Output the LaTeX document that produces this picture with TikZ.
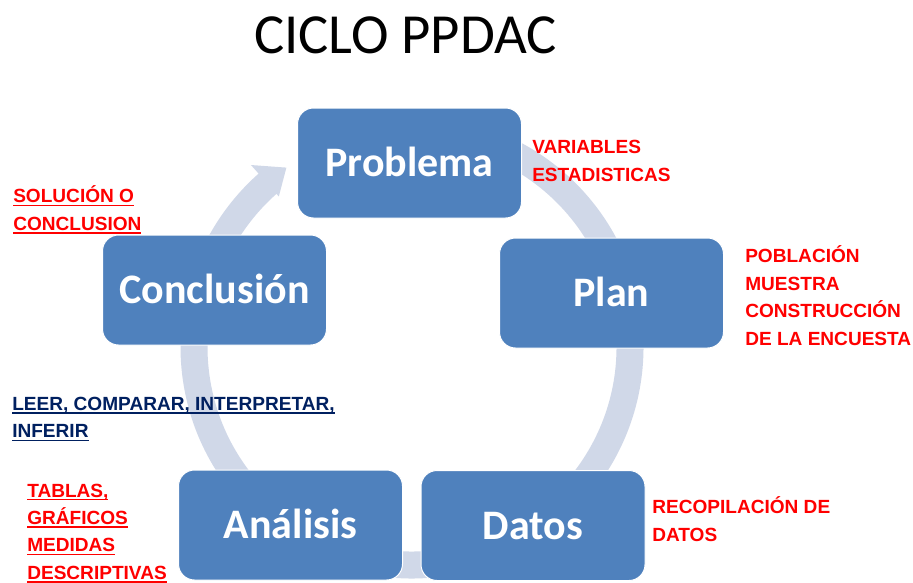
\documentclass[tikz,border=0pt]{standalone}
\usepackage{fontspec}
\setmainfont{Carlito}
\newfontfamily\labfont{Liberation Sans}
\definecolor{boxblue}{RGB}{79,129,189}
\definecolor{ringc}{RGB}{208,216,232}
\definecolor{navy}{RGB}{0,32,96}
\definecolor{labred}{RGB}{255,0,0}
\newsavebox\ulbox
\newcommand\ulx[1]{\sbox\ulbox{#1}\rlap{\rule[-2.6pt]{\wd\ulbox}{1.2pt}}\usebox\ulbox}
\begin{document}
\begin{tikzpicture}[x=0.75pt,y=0.75pt,
  stage/.style={rectangle, rounded corners=12pt, fill=boxblue, draw=white, line width=0.75pt,
    minimum width=168pt, minimum height=82.5pt, inner sep=0pt, text=white,
    font=\fontsize{31.5pt}{36pt}\selectfont\bfseries, text height=20.3pt, text depth=0pt},
  lbl/.style={anchor=north west, inner sep=0pt, align=left,
    font=\labfont\fontsize{14.3pt}{20.6pt}\selectfont\bfseries},
  ringpart/.style={ringc}]
\useasboundingbox (0,0) rectangle (913,-582);
\fill[white] (0,0) rectangle (913,-582);
% title
\node[font=\fontsize{42.5pt}{50pt}\selectfont, anchor=base, inner sep=0pt] (title) at (405.5,-53) {CICLO PPDAC};
% cycle ring
\coordinate (C) at (412,-347);
\draw[ringpart, line width=20.25pt] ([shift={(95:218)}]C) arc[start angle=95, end angle=-229, radius=163.5pt];
\fill[ringpart] ([shift={(131.5:243)}]C) -- ([shift={(125:219)}]C) -- ([shift={(131.5:201)}]C) -- cycle;
% stages
\node[stage] (prob) at (409.5,-163) {Problema};
\node[stage] (plan) at (611.5,-293) {Plan};
\node[stage] (datos) at (533,-525.5) {Datos};
\node[stage] (anal) at (290.5,-525) {Análisis};
\node[stage] (concl) at (214.5,-290) {Conclusión};
% labels
\node[lbl, text=labred] (l1) at (532,-134.3) {\strut VARIABLES\\ESTADISTICAS};
\node[lbl, text=labred] (l2) at (745,-243.3) {\strut POBLACIÓN\\MUESTRA\\CONSTRUCCIÓN\\DE LA ENCUESTA};
\node[lbl, text=labred] (l3) at (652,-494.1) {\strut RECOPILACIÓN DE\\DATOS};
\node[lbl, text=labred] (l4) at (13,-183.5) {\strut\ulx{SOLUCIÓN O}\\\ulx{CONCLUSION}};
\node[lbl, text=navy] (l5) at (12,-390.8) {\strut\ulx{LEER, COMPARAR, INTERPRETAR,}\\\ulx{INFERIR}};
\node[lbl, text=labred] (l6) at (27,-477.5) {\strut\ulx{TABLAS,}\\\ulx{GRÁFICOS}\\\ulx{MEDIDAS}\\\ulx{DESCRIPTIVAS}};
\end{tikzpicture}
\end{document}
